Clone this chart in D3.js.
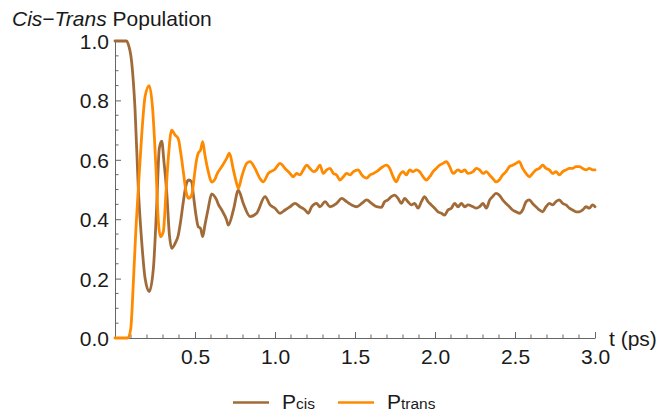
<!DOCTYPE html>
<html>
<head>
<meta charset="utf-8">
<script src="https://cdn.jsdelivr.net/npm/d3@7"></script>
<style>
  html, body { margin: 0; padding: 0; background: #fff; }
  svg { display: block; font-family: "Liberation Sans", Arial, sans-serif; }
</style>
</head>
<body>
<svg id="chart" width="669" height="412"></svg>
<script>
// Cis population P_cis(t)
const cisTime = [0, 0.073, 0.081, 0.104, 0.125, 0.146, 0.167, 0.188, 0.214, 0.24, 0.26, 0.277, 0.292, 0.306, 0.323, 0.34, 0.354, 0.375, 0.396, 0.41, 0.427, 0.444, 0.46, 0.479, 0.49, 0.506, 0.52, 0.535, 0.548, 0.562, 0.583, 0.604, 0.625, 0.635, 0.646, 0.667, 0.698, 0.708, 0.74, 0.771, 0.802, 0.844, 0.885, 0.938, 0.969, 1.0, 1.031, 1.063, 1.094, 1.125, 1.156, 1.188, 1.208, 1.229, 1.26, 1.281, 1.313, 1.344, 1.385, 1.417, 1.448, 1.479, 1.51, 1.542, 1.573, 1.604, 1.635, 1.665, 1.685, 1.706, 1.727, 1.748, 1.769, 1.79, 1.81, 1.831, 1.852, 1.873, 1.894, 1.915, 1.935, 1.956, 1.977, 1.998, 2.019, 2.04, 2.06, 2.081, 2.102, 2.123, 2.144, 2.165, 2.186, 2.206, 2.238, 2.258, 2.279, 2.3, 2.321, 2.342, 2.36, 2.381, 2.402, 2.423, 2.444, 2.465, 2.485, 2.506, 2.527, 2.548, 2.569, 2.59, 2.61, 2.631, 2.652, 2.673, 2.694, 2.715, 2.735, 2.756, 2.777, 2.798, 2.819, 2.84, 2.86, 2.881, 2.902, 2.923, 2.944, 2.965, 2.985, 3.0];
const cisValue = [1.0, 1.0, 0.992, 0.93, 0.773, 0.5, 0.324, 0.201, 0.156, 0.235, 0.437, 0.639, 0.663, 0.594, 0.493, 0.347, 0.302, 0.318, 0.347, 0.392, 0.459, 0.515, 0.532, 0.526, 0.481, 0.414, 0.375, 0.369, 0.341, 0.38, 0.437, 0.485, 0.475, 0.465, 0.45, 0.431, 0.397, 0.38, 0.431, 0.498, 0.453, 0.409, 0.42, 0.476, 0.448, 0.437, 0.42, 0.431, 0.442, 0.453, 0.442, 0.431, 0.42, 0.442, 0.453, 0.442, 0.459, 0.442, 0.453, 0.47, 0.459, 0.448, 0.442, 0.453, 0.465, 0.453, 0.442, 0.44, 0.459, 0.465, 0.476, 0.481, 0.47, 0.453, 0.47, 0.459, 0.448, 0.453, 0.437, 0.459, 0.476, 0.459, 0.448, 0.437, 0.425, 0.42, 0.414, 0.431, 0.437, 0.453, 0.442, 0.453, 0.442, 0.448, 0.442, 0.437, 0.442, 0.453, 0.437, 0.465, 0.476, 0.487, 0.481, 0.465, 0.453, 0.442, 0.431, 0.425, 0.42, 0.431, 0.459, 0.465, 0.453, 0.442, 0.431, 0.425, 0.442, 0.453, 0.448, 0.459, 0.465, 0.453, 0.448, 0.437, 0.431, 0.425, 0.425, 0.431, 0.442, 0.437, 0.448, 0.442];

// Trans population P_trans(t)
const transTime = [0, 0.08, 0.098, 0.115, 0.131, 0.146, 0.167, 0.188, 0.214, 0.235, 0.256, 0.271, 0.285, 0.302, 0.319, 0.333, 0.354, 0.375, 0.396, 0.41, 0.427, 0.444, 0.46, 0.479, 0.494, 0.506, 0.52, 0.535, 0.548, 0.562, 0.583, 0.604, 0.625, 0.635, 0.667, 0.698, 0.715, 0.74, 0.76, 0.771, 0.792, 0.823, 0.844, 0.875, 0.906, 0.927, 0.958, 1.0, 1.031, 1.063, 1.094, 1.115, 1.135, 1.156, 1.177, 1.198, 1.219, 1.24, 1.26, 1.281, 1.302, 1.323, 1.344, 1.365, 1.385, 1.406, 1.427, 1.448, 1.469, 1.49, 1.521, 1.542, 1.573, 1.594, 1.615, 1.635, 1.667, 1.696, 1.717, 1.738, 1.758, 1.779, 1.8, 1.821, 1.842, 1.863, 1.883, 1.904, 1.925, 1.946, 1.967, 1.988, 2.008, 2.029, 2.05, 2.071, 2.092, 2.113, 2.144, 2.165, 2.186, 2.206, 2.238, 2.258, 2.279, 2.3, 2.321, 2.342, 2.36, 2.381, 2.402, 2.423, 2.444, 2.465, 2.485, 2.506, 2.527, 2.548, 2.569, 2.59, 2.61, 2.631, 2.652, 2.673, 2.694, 2.715, 2.735, 2.756, 2.777, 2.798, 2.819, 2.84, 2.86, 2.881, 2.902, 2.923, 2.944, 2.965, 2.985, 3.0];
const transValue = [0, 0, 0.029, 0.19, 0.37, 0.504, 0.684, 0.813, 0.85, 0.773, 0.571, 0.392, 0.341, 0.358, 0.493, 0.605, 0.7, 0.684, 0.67, 0.627, 0.56, 0.493, 0.47, 0.481, 0.537, 0.588, 0.622, 0.633, 0.661, 0.616, 0.56, 0.525, 0.535, 0.549, 0.577, 0.605, 0.622, 0.566, 0.521, 0.504, 0.543, 0.588, 0.594, 0.571, 0.537, 0.526, 0.554, 0.568, 0.588, 0.571, 0.554, 0.543, 0.554, 0.549, 0.566, 0.582, 0.571, 0.56, 0.566, 0.582, 0.554, 0.566, 0.571, 0.554, 0.549, 0.532, 0.543, 0.554, 0.549, 0.56, 0.566, 0.549, 0.538, 0.549, 0.554, 0.56, 0.574, 0.582, 0.571, 0.543, 0.526, 0.549, 0.56, 0.549, 0.566, 0.56, 0.566, 0.56, 0.543, 0.532, 0.543, 0.56, 0.571, 0.582, 0.588, 0.594, 0.577, 0.554, 0.566, 0.56, 0.566, 0.554, 0.56, 0.571, 0.566, 0.554, 0.56, 0.548, 0.538, 0.526, 0.532, 0.549, 0.56, 0.577, 0.582, 0.588, 0.594, 0.571, 0.554, 0.543, 0.554, 0.566, 0.571, 0.582, 0.571, 0.566, 0.554, 0.56, 0.549, 0.56, 0.566, 0.571, 0.571, 0.577, 0.577, 0.571, 0.566, 0.571, 0.566, 0.566];

const xMajorTicks = [0.5, 1.0, 1.5, 2.0, 2.5, 3.0];
const yMajorTicks = [0.0, 0.2, 0.4, 0.6, 0.8, 1.0];
const seriesNames = ["cis", "trans"];

const colors = { cis: "#a06b38", trans: "#ff8a00" };
const axisColor = "#666";
const textColor = "#1a1a1a";
const fontSize = 21;

const svg = d3.select("#chart");
const x = d3.scaleLinear().domain([0, 3]).range([115, 595]);
const y = d3.scaleLinear().domain([0, 1]).range([338, 41]);

// minor ticks: every 0.1 on t, every 0.05 on population
const xMinor = d3.range(1, 30).map(i => i / 10).filter(v => Math.abs(v * 2 - Math.round(v * 2)) > 1e-6);
const yMinor = d3.range(1, 20).map(i => i / 20).filter(v => Math.abs(v * 5 - Math.round(v * 5)) > 1e-6);

const axes = svg.append("g");
// x axis (ticks point into the plot)
const xAxis = d3.axisBottom(x).tickValues(xMajorTicks).tickFormat(d3.format(".1f")).tickSizeInner(-6).tickSizeOuter(0).tickPadding(0);
const gx = axes.append("g").attr("transform", `translate(0,${y(0)})`).call(xAxis);
gx.append("g").selectAll("line").data(xMinor).join("line")
  .attr("x1", d => x(d)).attr("x2", d => x(d)).attr("y1", 0).attr("y2", -3.5);
gx.selectAll(".tick text").attr("y", 26).attr("dy", null);

// y axis
const yAxis = d3.axisLeft(y).tickValues(yMajorTicks).tickFormat(d3.format(".1f")).tickSizeInner(-6).tickSizeOuter(0).tickPadding(6);
const gy = axes.append("g").attr("transform", `translate(${x(0)},0)`).call(yAxis);
gy.append("g").selectAll("line").data(yMinor).join("line")
  .attr("x1", 0).attr("x2", 3.5).attr("y1", d => y(d)).attr("y2", d => y(d));
gy.selectAll(".tick text").attr("x", -6).attr("dy", "0.36em");

axes.selectAll("path.domain").attr("stroke", axisColor).attr("stroke-width", 1);
axes.selectAll("line").attr("stroke", axisColor).attr("stroke-width", 1);
axes.selectAll(".tick text").attr("font-size", fontSize).attr("fill", textColor)
  .attr("font-family", "'Liberation Sans', Arial, sans-serif");

// axis titles
svg.append("text").attr("x", 609).attr("y", 346).attr("font-size", fontSize).attr("fill", textColor).text("t (ps)");
const title = svg.append("text").attr("x", 12).attr("y", 26).attr("font-size", fontSize).attr("fill", textColor);
title.append("tspan").attr("font-style", "italic").text("Cis\u2212Trans");
title.append("tspan").text(" Population");

// curves
const line = d3.line().x(d => x(d[0])).y(d => y(d[1])).curve(d3.curveMonotoneX);
const series = {
  cis: d3.zip(cisTime, cisValue),
  trans: d3.zip(transTime, transValue)
};
svg.append("g").selectAll("path").data(seriesNames).join("path")
  .attr("d", k => line(series[k]))
  .attr("fill", "none")
  .attr("stroke", k => colors[k])
  .attr("stroke-width", 2.8)
  .attr("stroke-linejoin", "round")
  .attr("stroke-linecap", "round");

// legend
const legend = svg.append("g");
const legendItems = [
  { key: "cis", x: 233 },
  { key: "trans", x: 338 }
];
legendItems.forEach(it => {
  legend.append("line").attr("x1", it.x).attr("x2", it.x + 36).attr("y1", 402.5).attr("y2", 402.5)
    .attr("stroke", colors[it.key]).attr("stroke-width", 2.4);
  const t = legend.append("text").attr("x", it.x + 49).attr("y", 408.5).attr("font-size", fontSize).attr("fill", textColor);
  t.append("tspan").text("P");
  t.append("tspan").attr("font-size", 15.5).attr("dy", 0.5).text(it.key);
});
</script>
</body>
</html>
